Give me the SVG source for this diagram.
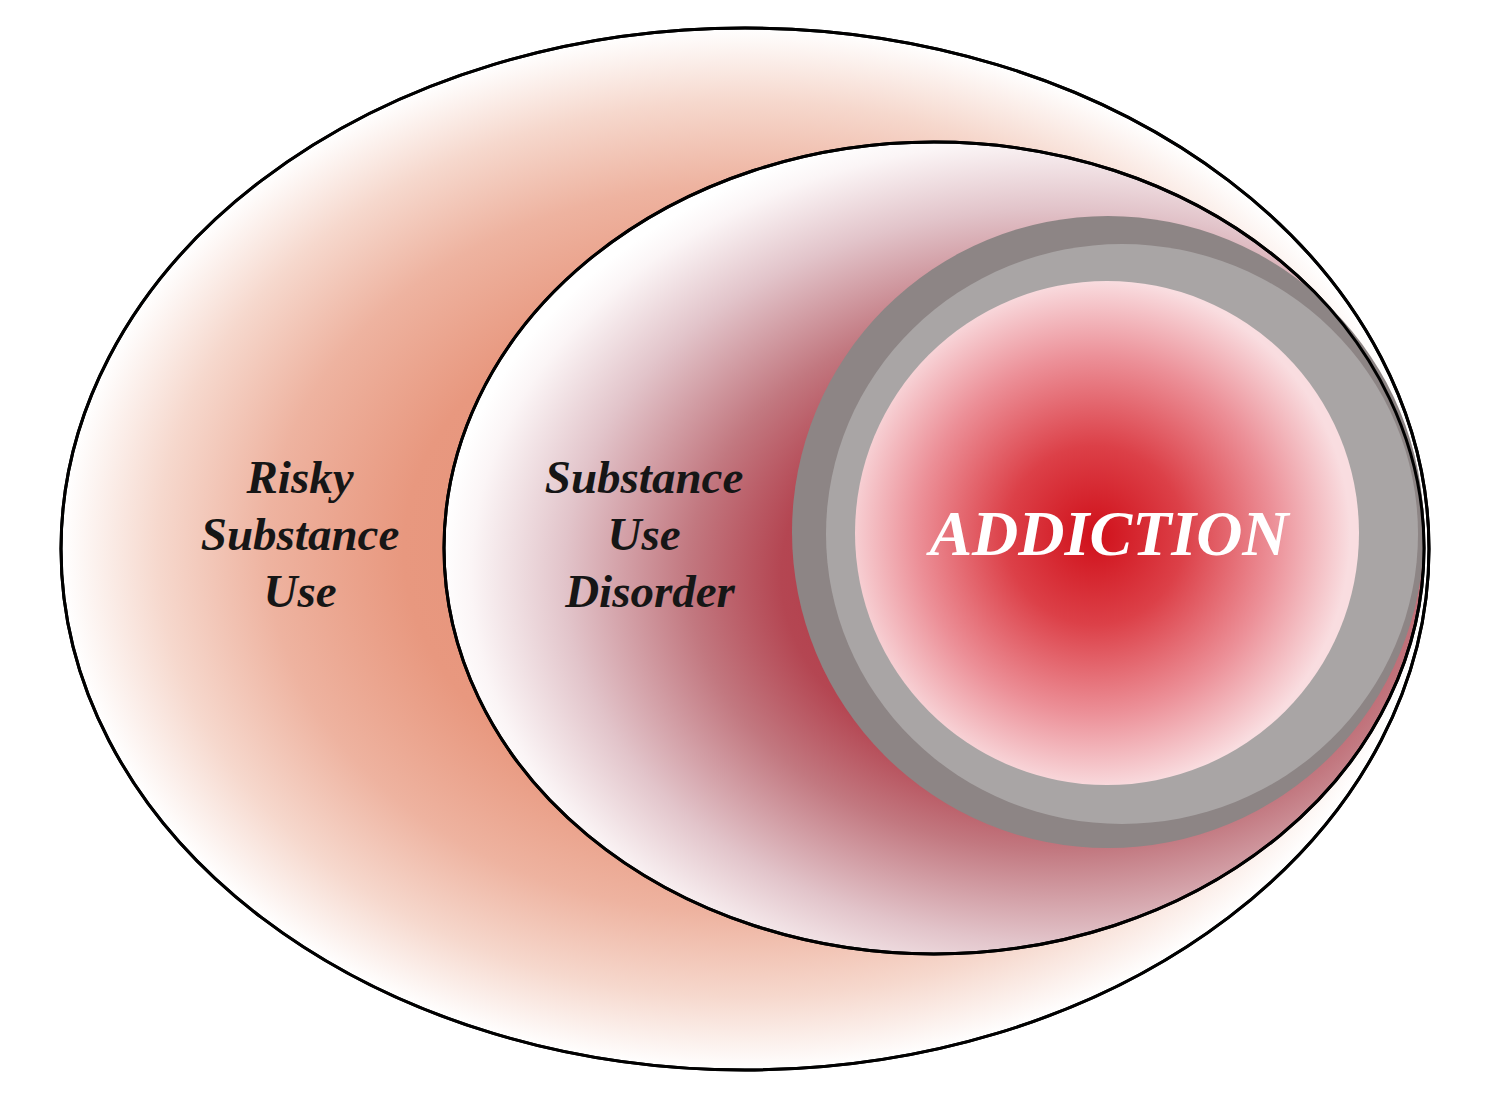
<svg xmlns="http://www.w3.org/2000/svg" width="1488" height="1102" viewBox="0 0 1488 1102">
<style>
.lbl{font-family:"Liberation Serif","Times New Roman",serif;font-weight:bold;font-style:italic;font-size:47px;fill:#161616;text-anchor:middle}
.big{font-family:"Liberation Serif","Times New Roman",serif;font-weight:bold;font-style:italic;font-size:64px;fill:#ffffff;text-anchor:middle}
.edge{fill:none;stroke:#000;stroke-width:3}
</style>
<defs>
<radialGradient id="gOuter" cx="745" cy="549" r="683" gradientUnits="userSpaceOnUse" gradientTransform="translate(745 549) scale(1 0.763) translate(-745 -549)">
<stop offset="0" stop-color="#e48e76"/>
<stop offset="0.5" stop-color="#e8987f"/>
<stop offset="0.7" stop-color="#eeb3a0"/>
<stop offset="0.86" stop-color="#f6d8cd"/>
<stop offset="1" stop-color="#ffffff"/>
</radialGradient>
<radialGradient id="gInner" cx="1060" cy="575" r="620" gradientUnits="userSpaceOnUse" gradientTransform="translate(1060 575) scale(1 0.74) translate(-1060 -575)">
<stop offset="0" stop-color="#b02030"/>
<stop offset="0.45" stop-color="#b44652"/>
<stop offset="0.6" stop-color="#c27880"/>
<stop offset="0.8" stop-color="#e2c4ca"/>
<stop offset="0.95" stop-color="#fbf5f6"/>
<stop offset="1" stop-color="#ffffff"/>
</radialGradient>
<radialGradient id="gCore" cx="1095" cy="535" r="255" gradientUnits="userSpaceOnUse">
<stop offset="0" stop-color="#d0101a"/>
<stop offset="0.35" stop-color="#dc4048"/>
<stop offset="0.7" stop-color="#ec9098"/>
<stop offset="1" stop-color="#f9dde0"/>
</radialGradient>
</defs>
<rect width="1488" height="1102" fill="#ffffff"/>
<g id="risky-substance-use">
<ellipse cx="745" cy="549" rx="684" ry="521" fill="url(#gOuter)" class="edge" style="fill:url(#gOuter)"/>
<text class="lbl" x="300" y="493">Risky</text>
<text class="lbl" x="300" y="550">Substance</text>
<text class="lbl" x="300" y="607">Use</text>
</g>
<g id="substance-use-disorder">
<ellipse cx="934" cy="548" rx="490" ry="406" class="edge" style="fill:url(#gInner)"/>
<text class="lbl" x="644" y="493">Substance</text>
<text class="lbl" x="644" y="550">Use</text>
<text class="lbl" x="650" y="607">Disorder</text>
</g>
<g id="addiction">
<circle cx="1108" cy="532" r="316" fill="#8d8585"/>
<ellipse cx="1122" cy="534" rx="296" ry="290" fill="#a9a5a5"/>
<circle cx="1107" cy="533" r="252" fill="url(#gCore)"/>
<text class="big" x="1109" y="555">ADDICTION</text>
</g>
<g id="connectors">
<ellipse cx="745" cy="549" rx="684" ry="521" class="edge"/>
<ellipse cx="934" cy="548" rx="490" ry="406" class="edge"/>
</g>
</svg>
